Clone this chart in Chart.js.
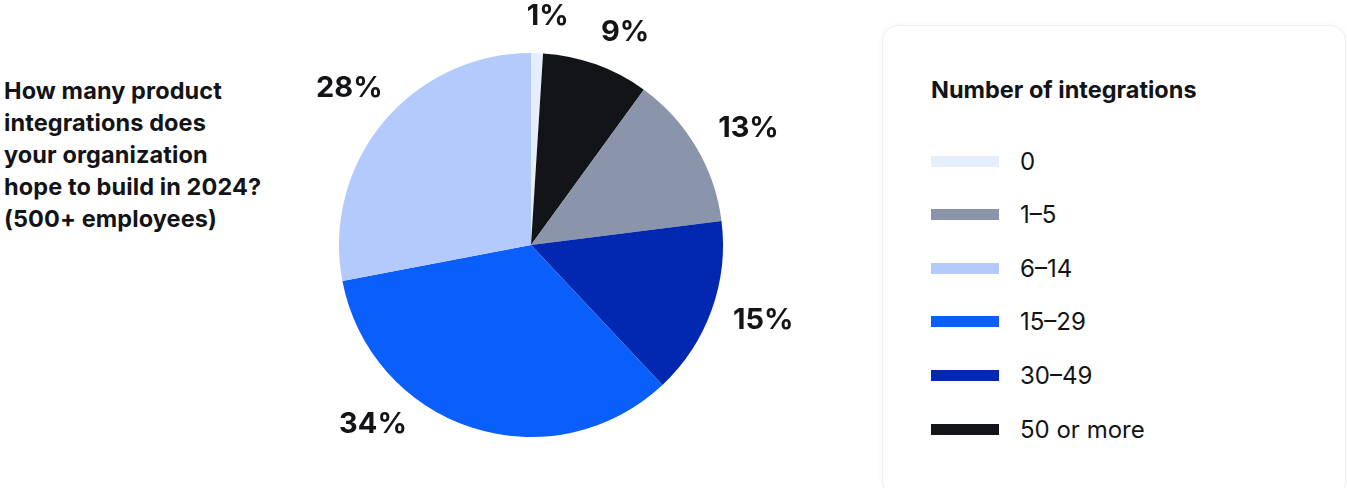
<!DOCTYPE html>
<html>
<head>
<meta charset="utf-8">
<script src="https://cdn.jsdelivr.net/npm/chart.js@4"></script>
<style>
    body { margin: 0; background: #fff; font-family: Inter, 'Noto Sans', sans-serif; color: #131418; }
    #wrap { position: relative; width: 1347px; height: 488px; overflow: hidden; }
    #question { position: absolute; left: 4px; top: 75px; font-weight: 700; font-size: 23.5px; line-height: 32px; letter-spacing: 0.1px; }
    #pieBox { position: absolute; left: 211px; top: -35px; width: 640px; height: 560px; }
    #legendBox {
        position: absolute; left: 882px; top: 25px; width: 462px; height: 470px;
        border: 1px solid #efefef; border-radius: 16px; background: #fff;
        box-shadow: 0 0 6px rgba(0,0,0,0.04);
    }
    #legendTitle { position: absolute; left: 48px; top: 49px; font-weight: 700; font-size: 23.5px; }
    .item { position: absolute; left: 48px; height: 30px; display: flex; align-items: center; font-size: 24px; }
    .swatch { width: 68px; height: 11px; margin-right: 21px; }
</style>
</head>
<body>
<div id="wrap">
    <div id="question">How many product<br>integrations does<br>your organization<br>hope to build in 2024?<br>(500+ employees)</div>
    <div id="pieBox"><canvas id="pieChart" width="640" height="560"></canvas></div>
    <div id="legendBox">
        <div id="legendTitle">Number of integrations</div>
        <div id="legendItems"></div>
    </div>
</div>
<script>
// pie order clockwise from top
const sliceLabels = ['0', '50 or more', '1–5', '30–49', '15–29', '6–14'];
const slicePercents = [1, 9, 13, 15, 34, 28];
const sliceColors = ['#e6eefc', '#131418', '#8a95ab', '#0228b2', '#0a5ffa', '#b5cafc'];

// legend order
const legendLabels = ['0', '1–5', '6–14', '15–29', '30–49', '50 or more'];

// label placement tweaks (degrees / px from centre) so labels sit like the original
const labelAngleNudge = [2.4, 4, 2.3, -1.9, 23.4, 1.2];
const labelRadius = [229, 233, 247, 244, 239, 240];

const legendItems = document.getElementById('legendItems');
legendLabels.forEach((lab, i) => {
    const idx = sliceLabels.indexOf(lab);
    const div = document.createElement('div');
    div.className = 'item';
    div.style.top = (120 + i * 53.6) + 'px';
    div.innerHTML = '<span class="swatch" style="background:' + sliceColors[idx] + '"></span>' + lab;
    legendItems.appendChild(div);
});

const outsideLabels = {
    id: 'outsideLabels',
    afterDatasetsDraw(chart) {
        const ctx = chart.ctx;
        const meta = chart.getDatasetMeta(0);
        ctx.save();
        ctx.font = '700 29px Inter, sans-serif';
        ctx.fillStyle = '#131418';
        ctx.textAlign = 'center';
        ctx.textBaseline = 'middle';
        meta.data.forEach((arc, i) => {
            const mid = (arc.startAngle + arc.endAngle) / 2 + labelAngleNudge[i] * Math.PI / 180;
            const x = arc.x + Math.cos(mid) * labelRadius[i];
            const y = arc.y + Math.sin(mid) * labelRadius[i];
            ctx.fillText(slicePercents[i] + '%', x, y);
        });
        ctx.restore();
    }
};

new Chart(document.getElementById('pieChart').getContext('2d'), {
    type: 'pie',
    data: {
        labels: sliceLabels,
        datasets: [{
            data: slicePercents,
            backgroundColor: sliceColors,
            borderWidth: 0
        }]
    },
    options: {
        responsive: false,
        animation: false,
        layout: { padding: { left: 128, right: 128, top: 88, bottom: 88 } },
        plugins: {
            legend: { display: false },
            tooltip: { enabled: false }
        }
    },
    plugins: [outsideLabels]
});
</script>
</body>
</html>
